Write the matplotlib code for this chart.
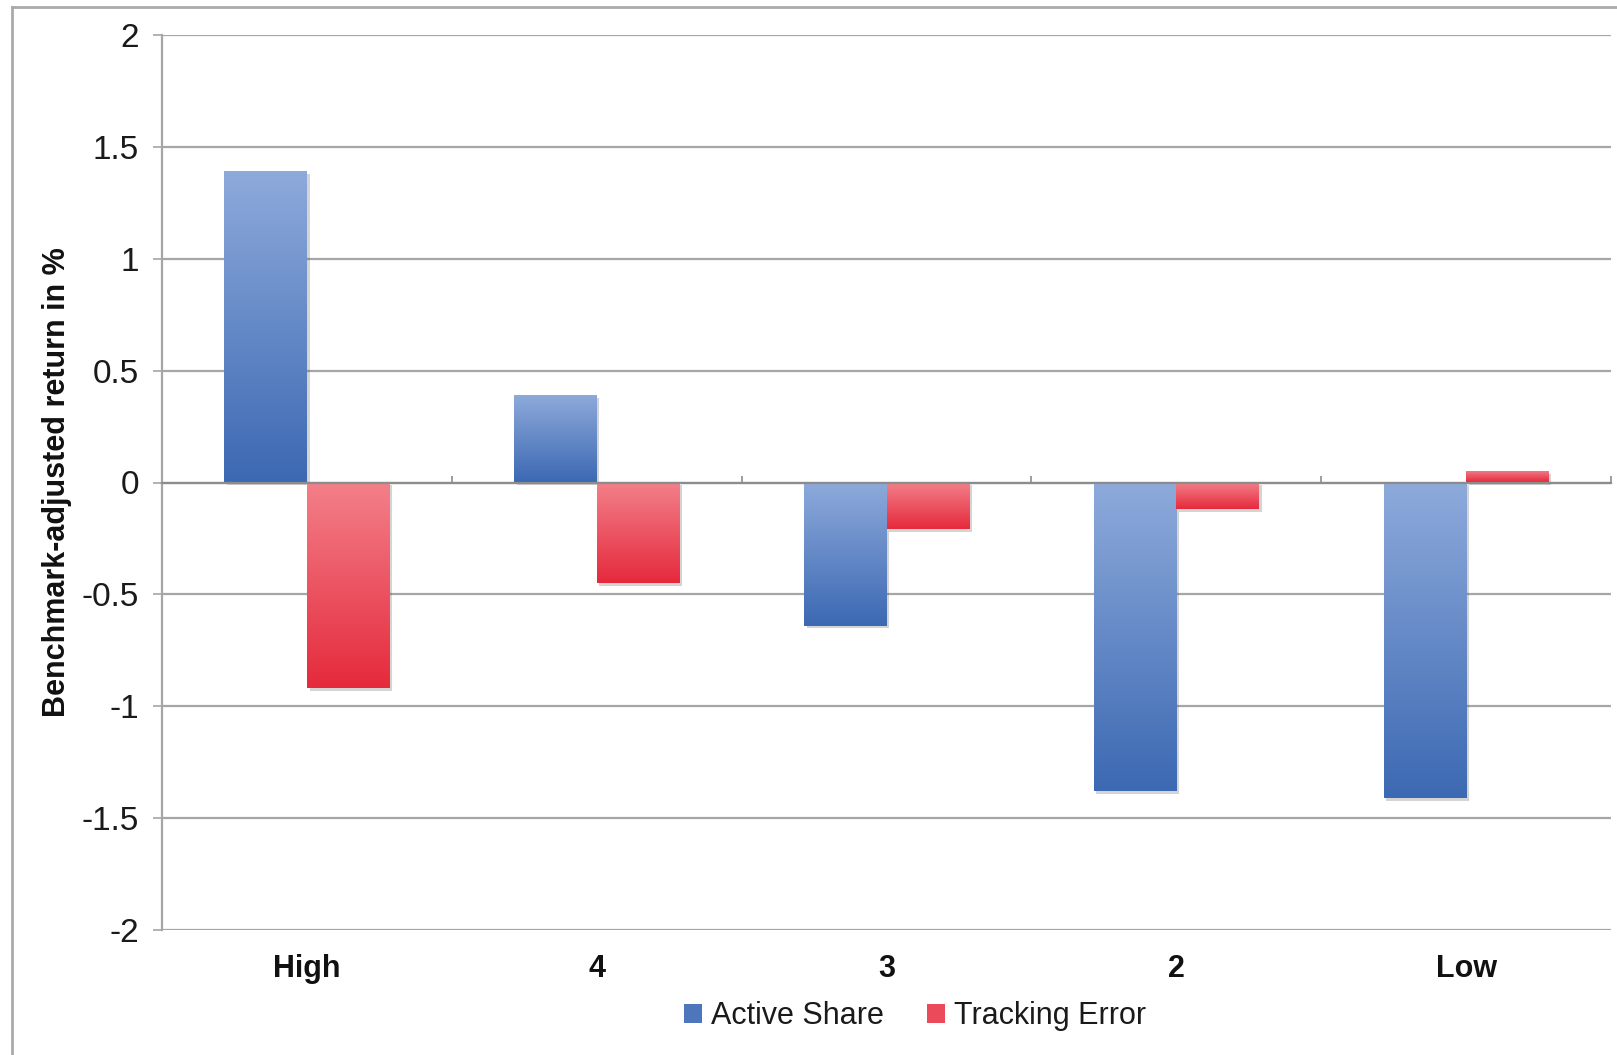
import numpy as np
import matplotlib.pyplot as plt
from matplotlib.patches import Patch
from matplotlib.colors import LinearSegmentedColormap
import matplotlib.patheffects as pe

plt.rcParams['font.family'] = ['Liberation Sans', 'DejaVu Sans']

# data
categories = ["High", "4", "3", "2", "Low"]
active_share = [1.39, 0.39, -0.64, -1.38, -1.41]
tracking_error = [-0.92, -0.45, -0.21, -0.12, 0.05]
series_names = ["Active Share", "Tracking Error"]

blue_top, blue_bottom = "#8eaadb", "#3c69b3"
red_top, red_bottom = "#f3808a", "#e52a3c"
grid_col = "#a6a6a6"

fig = plt.figure(figsize=(16.17, 10.55), dpi=100)
ax = fig.add_axes([162 / 1617, 1 - 930 / 1055, (1611 - 162) / 1617, (930 - 35) / 1055])

x = np.arange(len(categories))
w = 0.285


def gradient_bars(xpos, vals, c_top, c_bottom):
    cmap = LinearSegmentedColormap.from_list("g", [c_top, c_bottom])
    bars = ax.bar(xpos, vals, w, color="white", linewidth=0, zorder=3)
    grad = np.linspace(0, 1, 256).reshape(-1, 1)
    for b in bars:
        b.set_path_effects([pe.SimplePatchShadow(offset=(2, -2), alpha=0.25, shadow_rgbFace="#555555"),
                            pe.Normal()])
        x0, y0 = b.get_x(), b.get_y()
        x1, y1 = x0 + b.get_width(), y0 + b.get_height()
        lo, hi = min(y0, y1), max(y0, y1)
        im = ax.imshow(grad, cmap=cmap, aspect="auto", extent=(x0, x1, lo, hi),
                       origin="upper", zorder=4, interpolation="bicubic")
        im.set_clip_path(b)


gradient_bars(x - w / 2, active_share, blue_top, blue_bottom)
gradient_bars(x + w / 2, tracking_error, red_top, red_bottom)

ax.set_xlim(-0.5, 4.5)
ax.set_ylim(-2, 2)
ax.set_yticks([-2, -1.5, -1, -0.5, 0, 0.5, 1, 1.5, 2])
ax.set_yticklabels(["-2", "-1.5", "-1", "-0.5", "0", "0.5", "1", "1.5", "2"])
ax.yaxis.grid(True, color=grid_col, linewidth=1.6, zorder=0)
ax.set_axisbelow(True)

for s in ["top", "right"]:
    ax.spines[s].set_visible(False)
ax.spines["left"].set_color(grid_col)
ax.spines["left"].set_linewidth(1.6)
ax.spines["bottom"].set_position(("data", 0))
ax.spines["bottom"].set_color("#8c8c8c")
ax.spines["bottom"].set_linewidth(1.6)
ax.spines["bottom"].set_zorder(5)

ax.tick_params(axis="y", direction="out", length=6.5, width=1.2, color=grid_col,
               labelsize=24, pad=10, labelcolor="#1a1a1a")
ax.set_xticks(x)
ax.set_xticks(np.arange(-0.5, 4.6, 1.0), minor=True)
ax.tick_params(axis="x", which="major", length=0, labelbottom=False)
ax.tick_params(axis="x", which="minor", direction="in", length=5, width=1.2, color="#8c8c8c")

sec = ax.secondary_xaxis("bottom")
sec.set_xticks(x)
sec.set_xticklabels(categories, fontsize=22, fontweight="bold", color="#111111")
sec.tick_params(length=0, pad=17)
sec.spines["bottom"].set_visible(False)

ax.set_ylabel("Benchmark-adjusted return in %", fontsize=22, fontweight="bold",
              color="#111111")
ax.yaxis.set_label_coords(-0.062, 0.5)

handles = [Patch(facecolor="#4d76bd", edgecolor="none"), Patch(facecolor="#ea4a5a", edgecolor="none")]
fig.legend(handles, series_names, loc="center", bbox_to_anchor=(0.566, 1 - 1016 / 1055), ncol=2,
           frameon=False, fontsize=22, handlelength=0.6, handleheight=0.6, handletextpad=0.3,
           columnspacing=1.4, labelcolor="#1a1a1a")

# outer frame (left and top edges visible)
fig.add_artist(plt.Line2D([12 / 1617, 12 / 1617], [0, 1 - 7 / 1055], transform=fig.transFigure,
                          color="#aaaaaa", linewidth=2))
fig.add_artist(plt.Line2D([12 / 1617, 1], [1 - 7 / 1055, 1 - 7 / 1055], transform=fig.transFigure,
                          color="#aaaaaa", linewidth=2))

fig.savefig("out.png", dpi=100, facecolor="white")
